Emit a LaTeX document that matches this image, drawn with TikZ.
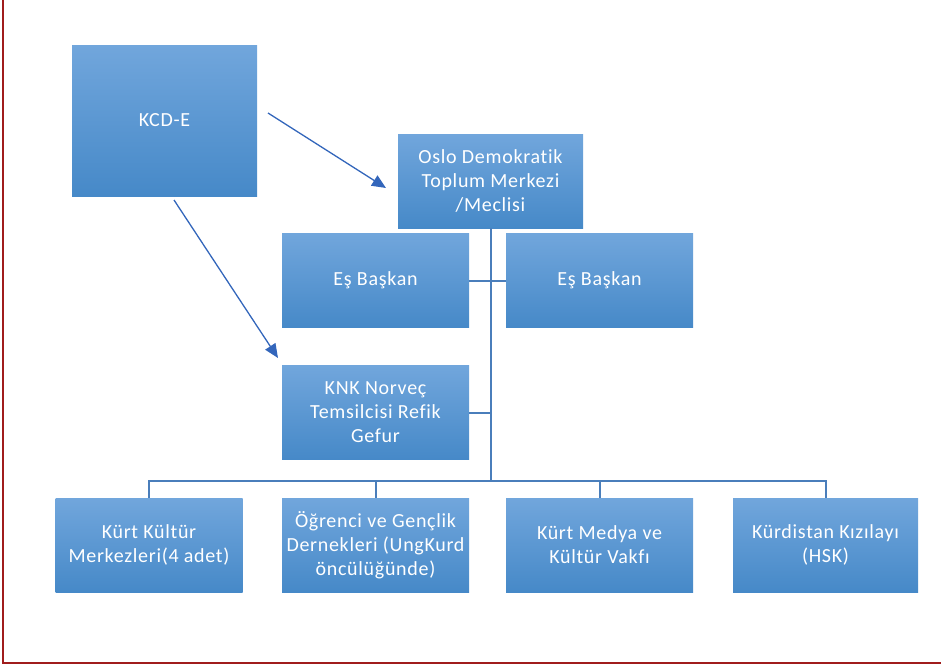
\documentclass[tikz,border=0pt]{standalone}
\usepackage{fontspec}
\setmainfont[LetterSpace=3.5, Ligatures=NoCommon]{Carlito}
\usetikzlibrary{arrows.meta}
\definecolor{boxtop}{HTML}{71A6DC}
\definecolor{boxbot}{HTML}{4689C8}
\definecolor{conn}{HTML}{4A7EBB}
\definecolor{arr}{HTML}{3366BB}
\definecolor{frame}{HTML}{A01C1C}
\tikzset{
  box/.style={rectangle, inner sep=0pt, top color=boxtop, bottom color=boxbot, draw=none,
    text=white, align=center, font=\fontsize{20}{24}\selectfont,
    minimum width=187pt, minimum height=94pt},
  conline/.style={draw=conn, line width=2pt},
  arrline/.style={draw=arr, line width=1.3pt, -{Triangle[length=14pt,width=12pt]}},
  framel/.style={draw=frame, line width=1.5pt}
}
\begin{document}
\begin{tikzpicture}[x=1pt,y=-1pt]
\useasboundingbox (0,0) rectangle (941,667);
\draw[framel] (3,0) -- (3,663) -- (941,663);
% nodes
\node[box, minimum width=185pt, minimum height=151pt] (kcd) at (164.5,120.5) {KCD-E};
\node[box, minimum width=185pt] (oslo) at (490.5,181) {Oslo Demokratik\\Toplum Merkezi\\/Meclisi};
\node[box] (e1) at (375.5,280.5) {Eş Başkan};
\node[box] (e2) at (599.5,280.5) {Eş Başkan};
\node[box] (knk) at (375.5,412.5) {KNK Norveç\\Temsilcisi Refik\\Gefur};
\node[box] (b1) at (149,545) {Kürt Kültür\\Merkezleri(4 adet)};
\node[box] (b2) at (375.5,545) {Öğrenci ve Gençlik\\Dernekleri (UngKurd\\öncülüğünde)};
\node[box] (b3) at (599.5,545) {Kürt Medya ve\\Kültür Vakfı};
\node[box, minimum width=185pt] (b4) at (825.5,545) {Kürdistan Kızılayı\\(HSK)};
% connectors
\coordinate (bus) at (490.5,481);
\draw[conline] (oslo.south) -- (bus);
\draw[conline] (e1.east) -- (e2.west);
\draw[conline] (knk.east) -- (knk.east -| bus);
\draw[conline] (b1.north) -- (b1.north |- bus) -- (b4.north |- bus) -- (b4.north);
\draw[conline] (b2.north) -- (b2.north |- bus);
\draw[conline] (b3.north) -- (b3.north |- bus);
% arrows
\coordinate (a1s) at (268,113);
\coordinate (a1e) at (386,188);
\coordinate (a2s) at (174,200);
\coordinate (a2e) at (278,358);
\draw[arrline] (a1s) -- (a1e);
\draw[arrline] (a2s) -- (a2e);
\end{tikzpicture}
\end{document}
